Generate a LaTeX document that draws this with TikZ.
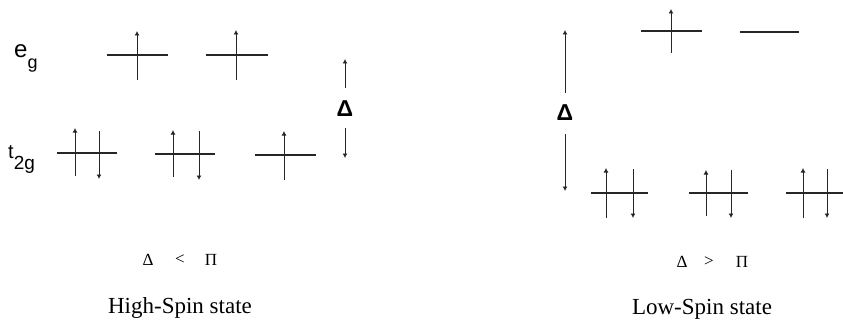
\documentclass[tikz,border=0pt]{standalone}
\usepackage{fontspec}
\setmainfont{Liberation Serif}
\newfontfamily\lblfont{Liberation Sans}
\usetikzlibrary{arrows.meta}
\tikzset{
  level/.style={line width=1.1pt, draw=black!85},
  spin/.style={line width=0.9pt, draw=black!85, -{Latex[length=4.5pt,width=5pt]}},
  gapline/.style={line width=0.9pt, draw=black!85, -{Latex[length=4.5pt,width=5pt]}},
  deltalbl/.style={font=\lblfont\bfseries\fontsize{23}{23}\selectfont, inner sep=0pt},
  orblbl/.style={font=\lblfont, inner sep=0pt, anchor=base west},
  cond/.style={font=\fontsize{17}{17}\selectfont, inner sep=0pt},
  statelbl/.style={font=\fontsize{23}{23}\selectfont, inner sep=0pt, anchor=base}
}
\begin{document}
\begin{tikzpicture}[x=1pt,y=-1pt]
\useasboundingbox (0,0) rectangle (843,321);
% ---------- High-spin ----------
\node[orblbl] (eg) at (14,58) {\fontsize{24}{24}\selectfont e\raisebox{-0.45em}{\fontsize{18}{18}\selectfont g}};
\node[orblbl] (t2g) at (8,158) {\fontsize{20}{20}\selectfont t\raisebox{-0.55em}{\fontsize{19}{19}\selectfont 2g}};
% eg levels
\coordinate (a1l) at (107,55); \coordinate (a1r) at (168,55);
\coordinate (a2l) at (206,55); \coordinate (a2r) at (268,55);
\draw[level] (a1l) -- (a1r);
\draw[level] (a2l) -- (a2r);
\coordinate (s1b) at (137,80); \coordinate (s1t) at (137,31);
\coordinate (s2b) at (236,80); \coordinate (s2t) at (236,30);
\draw[spin] (s1b) -- (s1t);
\draw[spin] (s2b) -- (s2t);
% t2g levels
\coordinate (b1l) at (57,153); \coordinate (b1r) at (117,153);
\coordinate (b2l) at (155,154); \coordinate (b2r) at (215,154);
\coordinate (b3l) at (255,155); \coordinate (b3r) at (316,155);
\draw[level] (b1l) -- (b1r);
\draw[level] (b2l) -- (b2r);
\draw[level] (b3l) -- (b3r);
\coordinate (u1b) at (75,176); \coordinate (u1t) at (75,128);
\coordinate (d1t) at (99,131); \coordinate (d1b) at (99,179);
\coordinate (u2b) at (173,177); \coordinate (u2t) at (173,130);
\coordinate (d2t) at (199,131); \coordinate (d2b) at (199,180);
\coordinate (u3b) at (284,180); \coordinate (u3t) at (284,131);
\draw[spin] (u1b) -- (u1t);
\draw[spin] (d1t) -- (d1b);
\draw[spin] (u2b) -- (u2t);
\draw[spin] (d2t) -- (d2b);
\draw[spin] (u3b) -- (u3t);
% Delta gap
\node[deltalbl] (dl) at (345,109) {Δ};
\coordinate (dla) at (345,88); \coordinate (dlt) at (345,59);
\coordinate (dlc) at (345,128); \coordinate (dlb) at (345,158);
\draw[gapline] (dla) -- (dlt);
\draw[gapline] (dlc) -- (dlb);
% condition and state
\node[cond] (c1) at (148,260) {Δ};
\node[cond] (c2) at (180,260) {<};
\node[cond] (c3) at (211,260) {Π};
\node[statelbl] (hs) at (180,313) {High-Spin state};
% ---------- Low-spin ----------
\node[deltalbl] (dr) at (565,113) {Δ};
\coordinate (dra) at (565,93); \coordinate (drt) at (565,30);
\coordinate (drc) at (565,134); \coordinate (drb) at (565,191);
\draw[gapline] (dra) -- (drt);
\draw[gapline] (drc) -- (drb);
% eg levels
\coordinate (e1l) at (641,31); \coordinate (e1r) at (702,31);
\coordinate (e2l) at (740,32); \coordinate (e2r) at (799,32);
\draw[level] (e1l) -- (e1r);
\draw[level] (e2l) -- (e2r);
\coordinate (r1b) at (671,53); \coordinate (r1t) at (671,9);
\draw[spin] (r1b) -- (r1t);
% t2g levels
\coordinate (f1l) at (591,193); \coordinate (f1r) at (648,193);
\coordinate (f2l) at (689,193); \coordinate (f2r) at (748,193);
\coordinate (f3l) at (786,193); \coordinate (f3r) at (843,193);
\draw[level] (f1l) -- (f1r);
\draw[level] (f2l) -- (f2r);
\draw[level] (f3l) -- (f3r);
\coordinate (v1b) at (606,218); \coordinate (v1t) at (606,168);
\coordinate (w1t) at (633,169); \coordinate (w1b) at (633,218);
\coordinate (v2b) at (706,216); \coordinate (v2t) at (706,170);
\coordinate (w2t) at (731,170); \coordinate (w2b) at (731,218);
\coordinate (v3b) at (803,218); \coordinate (v3t) at (803,168);
\coordinate (w3t) at (827,169); \coordinate (w3b) at (827,218);
\draw[spin] (v1b) -- (v1t);
\draw[spin] (w1t) -- (w1b);
\draw[spin] (v2b) -- (v2t);
\draw[spin] (w2t) -- (w2b);
\draw[spin] (v3b) -- (v3t);
\draw[spin] (w3t) -- (w3b);
% condition and state
\node[cond] (k1) at (682,262) {Δ};
\node[cond] (k2) at (709,262) {>};
\node[cond] (k3) at (742,262) {Π};
\node[statelbl] (ls) at (702,314) {Low-Spin state};
\end{tikzpicture}
\end{document}
